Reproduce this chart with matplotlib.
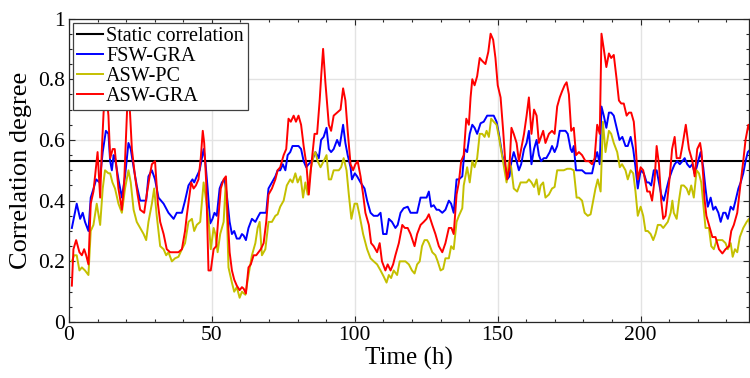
import matplotlib
matplotlib.use("Agg")
import matplotlib.pyplot as plt
from matplotlib.ticker import MultipleLocator

# values (time in hours, correlation degree)
static_corr = 0.53

fsw_t = [1, 2.7, 3.9, 4.8, 5.6, 6.8, 7.6, 8.6, 9.5, 10.7, 11.8, 12.9, 13.8, 14.4, 15.0, 15.6, 16.1,
         17.3, 18.5, 19.6, 20.8, 21.6, 22.6, 23.7, 24.9, 26.1, 27.0, 27.8, 29.0, 30.1, 31.3, 33.1,
         34.8, 36.6, 37.7, 39.5, 40.6, 41.8, 43.2, 43.8, 44.7, 45.7, 46.5, 47.1, 47.7, 48.5, 49.4,
         50.2, 50.9, 51.7, 52.7, 53.5, 54.4, 55.2, 56.2, 57.0, 57.8, 58.7, 59.7, 60.5, 61.1, 61.9,
         62.8, 64.0, 65.2, 66.3, 66.9, 68.1, 69.0, 69.8, 71.0, 72.2, 73.0, 73.9, 74.8, 75.7, 76.5,
         77.4, 78.2, 79.2, 80.3, 81.2, 82.1, 83.0, 83.8, 85.0, 86.2, 87.4, 88.2, 89.1, 90.1, 90.9,
         91.7, 92.6, 93.8, 94.7, 95.9, 96.7, 97.5, 98.5, 99.0, 100.0, 100.8, 102.0, 103.4, 104.3,
         105.5, 106.6, 108.0, 109.0, 109.9, 111.1, 111.9, 113.0, 114.2, 115.0, 116.0, 117.1, 118.5,
         119.5, 120.6, 121.8, 123.0, 124.1, 125.1, 125.9, 126.7, 127.6, 128.6, 129.4, 130.6, 131.7,
         132.9, 133.7, 134.6, 135.6, 136.4, 137.6, 138.4, 139.3, 140.2, 141.1, 141.9, 142.8, 144.0,
         145.1, 146.3, 147.5, 148.6, 149.6, 150.4, 151.6, 152.4, 153.3, 154.1, 154.8, 155.6, 156.6,
         157.4, 158.2, 159.2, 160.1, 160.9, 161.8, 162.7, 163.6, 164.4, 165.2, 166.1, 167.0, 168.2,
         169.0, 169.9, 170.8, 171.7, 172.5, 173.7, 174.5, 175.5, 176.0, 176.6, 177.4, 178.4, 179.5,
         180.7, 181.9, 183.0, 183.9, 184.8, 185.7, 186.3, 187.1, 188.0, 188.9, 189.7, 190.6, 191.6,
         192.6, 193.6, 194.7, 195.5, 196.5, 197.4, 198.2, 199.0, 200.0, 201.1, 202.1, 202.9, 203.7,
         204.6, 205.6, 206.4, 207.2, 208.1, 209.1, 209.9, 211.0, 211.9, 212.8, 213.7, 214.6, 215.4,
         216.3, 217.2, 218.1, 218.9, 219.6, 220.4, 221.0, 221.9, 222.7, 223.5, 224.5, 225.4, 226.2,
         227.2, 228.0, 228.9, 229.7, 230.5, 231.5, 232.4, 233.2, 234.2, 235.0, 235.9, 236.7, 237.5,
         238.5]
fsw_v = [0.31, 0.39, 0.34, 0.36, 0.33, 0.30, 0.41, 0.44, 0.47, 0.46, 0.56, 0.63, 0.62, 0.53, 0.50, 0.55, 0.54,
         0.47, 0.41, 0.48, 0.59, 0.57, 0.51, 0.45, 0.40, 0.40, 0.40, 0.48, 0.50, 0.47, 0.41, 0.39,
         0.36, 0.34, 0.36, 0.36, 0.40, 0.45, 0.47, 0.46, 0.48, 0.50, 0.54, 0.57, 0.53, 0.44, 0.325,
         0.34, 0.36, 0.35, 0.44, 0.46, 0.47, 0.42, 0.33, 0.29, 0.30, 0.275, 0.275, 0.29, 0.285, 0.27,
         0.31, 0.34, 0.33, 0.35, 0.36, 0.36, 0.36, 0.44, 0.46, 0.48, 0.50, 0.50, 0.52, 0.50, 0.55,
         0.56, 0.58, 0.58, 0.58, 0.57, 0.53, 0.51, 0.52, 0.53, 0.56, 0.54, 0.60, 0.61, 0.64, 0.57,
         0.56, 0.57, 0.60, 0.58, 0.65, 0.59, 0.55, 0.51, 0.47, 0.49, 0.48, 0.46, 0.44, 0.40,
         0.36, 0.35, 0.35, 0.36, 0.29, 0.29, 0.34, 0.33, 0.31, 0.32, 0.36, 0.375, 0.38,
         0.36, 0.36, 0.36, 0.41, 0.41, 0.41, 0.43, 0.38, 0.385, 0.37, 0.37, 0.36, 0.37,
         0.40, 0.39, 0.36, 0.47, 0.47, 0.48, 0.57, 0.56, 0.62, 0.65, 0.64, 0.62, 0.655,
         0.66, 0.68, 0.68, 0.68, 0.66, 0.62, 0.55, 0.52, 0.47, 0.48, 0.53, 0.56, 0.53,
         0.50, 0.52, 0.57, 0.59, 0.63, 0.52, 0.57, 0.60, 0.55, 0.53, 0.54, 0.54, 0.56,
         0.58, 0.56, 0.58, 0.63, 0.63, 0.63, 0.62, 0.57, 0.56, 0.58, 0.50, 0.50, 0.50,
         0.49, 0.49, 0.49, 0.53, 0.56, 0.52, 0.71, 0.68, 0.64, 0.69, 0.69, 0.68, 0.64,
         0.60, 0.61, 0.58, 0.58, 0.61, 0.57, 0.51, 0.44, 0.50, 0.49, 0.46, 0.46, 0.45,
         0.50, 0.50, 0.46, 0.42, 0.40, 0.44, 0.47, 0.50, 0.52, 0.53, 0.52, 0.53, 0.54,
         0.52, 0.51, 0.52, 0.49, 0.51, 0.54, 0.56, 0.51, 0.44, 0.38, 0.41, 0.37, 0.38,
         0.36, 0.33, 0.36, 0.36, 0.34, 0.38, 0.37, 0.40, 0.44, 0.46, 0.49, 0.53, 0.56,
         0.57]

pc_t = [1, 1.8, 2.7, 3.65, 4.5, 5.6, 6.8, 7.6, 8.55, 9.7, 10.9, 11.8, 12.6, 13.8, 14.4, 15.2, 16.1,
        17.3, 18.5, 19.6, 20.8, 21.6, 22.6, 23.7, 24.9, 26.1, 27.0, 27.8, 29.0, 29.8, 30.7, 31.9,
        33.1, 34.0, 34.8, 36.0, 37.1, 38.3, 39.5, 40.6, 41.8, 43.0, 43.8, 44.7, 45.9, 47.1, 48.0,
        48.8, 49.6, 50.6, 51.2, 52.0, 52.9, 54.1, 54.9, 55.8, 57.0, 57.8, 58.7, 59.7, 60.5, 61.7,
        62.8, 64.0, 65.2, 66.0, 66.7, 67.5, 68.7, 69.8, 71.0, 72.2, 73.0, 73.9, 75.1, 76.2, 77.4,
        78.2, 79.2, 80.0, 81.0, 81.9, 82.7, 83.5, 84.5, 85.6, 86.2, 87.0, 88.0, 89.1, 90.1, 90.9,
        91.7, 92.6, 93.6, 94.4, 95.2, 96.1, 97.1, 97.9, 98.8, 99.9, 100.8, 101.7, 102.9, 104.3,
        105.5, 106.6, 107.8, 109.0, 110.1, 111.1, 111.9, 112.7, 113.6, 114.8, 115.7, 116.6, 117.7,
        118.9, 120.0, 120.9, 121.8, 122.7, 123.5, 124.4, 125.3, 125.9, 127.1, 128.2, 129.0, 130.0,
        130.9, 131.7, 132.9, 133.7, 134.6, 135.6, 136.4, 137.6, 138.1, 139.3, 140.2, 141.1, 141.9,
        142.8, 143.7, 144.6, 145.4, 146.1, 146.9, 147.7, 148.6, 149.6, 150.4, 151.3, 152.2, 153.1,
        153.9, 154.7, 155.6, 156.8, 158.0, 159.2, 160.1, 160.9, 161.8, 162.7, 163.6, 164.4, 165.0,
        165.9, 166.7, 167.9, 169.0, 169.9, 170.8, 172.0, 173.1, 174.3, 175.5, 176.6, 177.6, 178.4,
        179.5, 180.4, 181.5, 182.5, 183.4, 184.2, 185.0, 186.0, 186.8, 187.7, 188.9, 189.7, 190.6,
        191.8, 192.7, 193.5, 194.7, 195.5, 196.5, 197.4, 198.2, 199.0, 200.0, 200.9, 201.7, 202.5,
        203.5, 204.4, 205.2, 206.0, 207.0, 207.9, 208.7, 209.5, 210.5, 211.1, 211.6, 212.6, 213.4,
        214.2, 215.1, 216.1, 216.9, 217.7, 218.6, 219.6, 220.4, 221.2, 221.9, 222.7, 223.9, 224.7,
        225.6, 226.6, 227.4, 228.6, 229.7, 230.5, 231.5, 232.2, 233.0, 233.8, 234.7, 235.9, 237.1,
        237.9, 238.5]
pc_v = [0.20, 0.22, 0.22, 0.17, 0.18, 0.17, 0.155, 0.30, 0.32, 0.39, 0.32, 0.44, 0.50, 0.49, 0.49, 0.46, 0.44,
        0.39, 0.36, 0.44, 0.50, 0.46, 0.37, 0.33, 0.31, 0.29, 0.27, 0.33, 0.39, 0.44, 0.35, 0.25,
        0.24, 0.22, 0.23, 0.20, 0.21, 0.215, 0.24, 0.26, 0.33, 0.34, 0.30, 0.32, 0.33, 0.46, 0.40,
        0.34, 0.24, 0.31, 0.29, 0.23, 0.29, 0.33, 0.47, 0.18, 0.13, 0.10, 0.115, 0.08, 0.10, 0.09,
        0.155, 0.22, 0.26, 0.31, 0.33, 0.22, 0.24, 0.33, 0.33, 0.35, 0.355, 0.38, 0.40, 0.45, 0.47,
        0.46, 0.49, 0.46, 0.48, 0.41, 0.46, 0.42, 0.50, 0.55, 0.56, 0.53, 0.51, 0.53, 0.55, 0.47,
        0.47, 0.50, 0.50, 0.50, 0.51, 0.54, 0.50, 0.42, 0.34, 0.39, 0.39, 0.35, 0.29, 0.24,
        0.21, 0.20, 0.19, 0.17, 0.15, 0.13, 0.155, 0.145, 0.17, 0.155, 0.20, 0.20, 0.20,
        0.19, 0.17, 0.16, 0.19, 0.20, 0.25, 0.27, 0.27, 0.26, 0.23, 0.22, 0.20, 0.17,
        0.175, 0.21, 0.21, 0.25, 0.24, 0.33, 0.35, 0.375, 0.45, 0.51, 0.46, 0.53, 0.51,
        0.54, 0.62, 0.62, 0.61, 0.63, 0.61, 0.67, 0.66, 0.65, 0.61, 0.56, 0.51, 0.46,
        0.53, 0.51, 0.44, 0.43, 0.46, 0.46, 0.46, 0.47, 0.46, 0.445, 0.47, 0.42, 0.45,
        0.46, 0.41, 0.42, 0.44, 0.445, 0.50, 0.50, 0.50, 0.505, 0.505, 0.50, 0.41, 0.41,
        0.40, 0.36, 0.35, 0.355, 0.40, 0.44, 0.47, 0.43, 0.66, 0.56, 0.63, 0.62, 0.59,
        0.56, 0.51, 0.52, 0.50, 0.47, 0.50, 0.49, 0.43, 0.35, 0.38, 0.35, 0.30, 0.30,
        0.29, 0.27, 0.29, 0.32, 0.32, 0.31, 0.32, 0.33, 0.36, 0.40, 0.36, 0.34, 0.40,
        0.45, 0.45, 0.44, 0.42, 0.45, 0.41, 0.50, 0.49, 0.46, 0.39, 0.31, 0.31, 0.25,
        0.24, 0.27, 0.27, 0.27, 0.26, 0.24, 0.26, 0.215, 0.24, 0.23, 0.28, 0.31, 0.33,
        0.34, 0.30]

gra_t = [1, 1.55, 2.5, 3.65, 4.5, 5.3, 6.0, 6.8, 7.6, 8.55, 10.0, 10.9, 11.5, 12.1, 12.6, 13.2, 13.8,
         14.4, 15.3, 16.0, 17.3, 18.5, 19.3, 19.9, 20.5, 21.0, 21.4, 22.0, 23.1, 24.0, 24.9, 26.3,
         27.2, 28.2, 29.0, 30.1, 31.1, 31.9, 33.1, 34.2, 35.4, 36.6, 38.3, 39.5, 40.6, 41.2, 42.2,
         42.75, 43.6, 44.4, 45.3, 46.1, 46.8, 47.3, 48.0, 48.8, 49.6, 50.6, 51.5, 52.3, 53.1, 54.1,
         54.9, 55.5, 56.2, 57.0, 57.8, 58.7, 59.7, 60.5, 61.1, 61.9, 62.8, 63.6, 64.6, 65.5, 66.3,
         67.1, 68.1, 69.0, 69.8, 71.0, 72.2, 73.0, 73.9, 75.1, 76.0, 76.8, 77.6, 78.6, 79.4, 80.3,
         81.2, 82.1, 83.05, 83.9, 84.7, 85.9, 86.8, 87.7, 88.3, 88.9, 89.7, 90.9, 91.7, 92.6, 93.8,
         95.0, 95.9, 96.7, 97.5, 98.5, 99.4, 100.2, 101.0, 102.0, 102.9, 103.7, 104.9, 105.7, 106.6,
         107.8, 108.7, 109.5, 110.7, 111.5, 112.5, 113.4, 114.2, 115.4, 116.6, 117.5, 118.5, 119.5,
         120.9, 121.8, 123.0, 124.1, 125.1, 125.9, 127.1, 128.2, 129.4, 130.6, 131.7, 132.9, 133.8,
         134.6, 135.6, 136.4, 137.2, 138.1, 139.0, 139.9, 140.5, 141.1, 141.9, 142.8, 143.7, 144.6,
         145.7, 146.7, 147.5, 148.4, 149.2, 150.0, 151.0, 151.9, 152.7, 153.3, 154.1, 154.8, 155.6,
         156.6, 157.4, 158.2, 159.2, 160.1, 160.9, 161.8, 162.7, 163.6, 164.4, 165.9, 166.7, 167.9,
         169.0, 169.9, 170.8, 171.7, 172.5, 173.4, 174.1, 174.9, 175.7, 176.6, 177.4, 178.4, 179.5,
         180.7, 181.9, 183.0, 183.9, 184.8, 185.7, 186.3, 187.1, 188.0, 188.9, 189.7, 190.6, 191.6,
         192.4, 193.2, 194.1, 195.1, 195.9, 196.7, 197.6, 198.2, 199.0, 200.0, 200.9, 201.7, 202.3,
         203.2, 204.0, 204.9, 205.6, 206.4, 207.2, 207.9, 208.7, 209.3, 210.2, 211.0, 211.9, 212.6,
         213.8, 214.6, 215.8, 216.9, 218.1, 218.9, 219.8, 220.8, 221.3, 221.9, 222.3, 223.0, 223.9,
         225.1, 226.2, 227.4, 228.6, 229.7, 230.9, 231.7, 232.6, 233.8, 235.0, 235.9, 236.7, 237.7,
         238.5]
gra_v = [0.12, 0.24, 0.27, 0.23, 0.22, 0.24, 0.22, 0.19, 0.39, 0.43, 0.56, 0.41, 0.57, 0.69, 0.74, 0.74, 0.68,
         0.54, 0.57, 0.57, 0.44, 0.37, 0.46, 0.60, 0.74, 0.74, 0.68, 0.57, 0.48, 0.42, 0.37, 0.36,
         0.42, 0.48, 0.52, 0.53, 0.39, 0.33, 0.29, 0.24, 0.23, 0.23, 0.23, 0.24, 0.30, 0.35, 0.42,
         0.46, 0.44, 0.45, 0.47, 0.54, 0.63, 0.59, 0.46, 0.17, 0.17, 0.24, 0.25, 0.35, 0.44, 0.47,
         0.48, 0.35, 0.23, 0.17, 0.14, 0.12, 0.105, 0.115, 0.11, 0.094, 0.18, 0.19, 0.22, 0.22, 0.23,
         0.24, 0.26, 0.33, 0.42, 0.44, 0.47, 0.50, 0.51, 0.55, 0.57, 0.67, 0.66, 0.68, 0.66, 0.68,
         0.65, 0.58, 0.52, 0.42, 0.51, 0.62, 0.62, 0.73, 0.82, 0.90, 0.79, 0.65, 0.63, 0.68, 0.69,
         0.70, 0.77, 0.73, 0.63, 0.52, 0.50, 0.52, 0.53, 0.48, 0.42, 0.36, 0.32, 0.26, 0.25,
         0.23, 0.26, 0.20, 0.17, 0.19, 0.17, 0.19, 0.22, 0.26, 0.32, 0.31, 0.31, 0.29,
         0.25, 0.29, 0.32, 0.33, 0.34, 0.355, 0.32, 0.29, 0.25, 0.23, 0.26, 0.31, 0.31,
         0.29, 0.42, 0.46, 0.53, 0.55, 0.67, 0.65, 0.74, 0.80, 0.78, 0.81, 0.87, 0.86,
         0.85, 0.89, 0.95, 0.93, 0.87, 0.78, 0.74, 0.63, 0.52, 0.47, 0.51, 0.64, 0.62,
         0.59, 0.53, 0.57, 0.62, 0.68, 0.74, 0.62, 0.70, 0.68, 0.59, 0.63, 0.59, 0.62,
         0.63, 0.62, 0.71, 0.74, 0.76, 0.78, 0.79, 0.75, 0.63, 0.64, 0.55, 0.56, 0.55,
         0.53, 0.53, 0.52, 0.54, 0.65, 0.62, 0.95, 0.90, 0.84, 0.885, 0.87, 0.88, 0.80,
         0.73, 0.72, 0.72, 0.68, 0.69, 0.69, 0.66, 0.59, 0.47, 0.51, 0.50, 0.46, 0.43,
         0.43, 0.40, 0.47, 0.58, 0.52, 0.40, 0.34, 0.35, 0.40, 0.48, 0.57, 0.61, 0.54,
         0.54, 0.58, 0.65, 0.57, 0.53, 0.48, 0.57, 0.59, 0.56, 0.48, 0.41, 0.35, 0.32,
         0.28, 0.28, 0.24, 0.226, 0.24, 0.25, 0.30, 0.32, 0.36, 0.46, 0.53, 0.60, 0.65,
         0.62]

plt.rcParams['font.family'] = ['Liberation Serif', 'DejaVu Serif']

fig = plt.figure(figsize=(7.5, 3.78), dpi=100)
ax = fig.add_axes([0.092, 0.148, 0.907, 0.803])

ax.grid(True, which='major', color='#e3e3e3', linewidth=1.0, zorder=0)
ax.axhline(static_corr, color='black', linewidth=1.5, label='Static correlation', zorder=3)
ax.plot(fsw_t, fsw_v, color='#0000ff', linewidth=1.4, label='FSW-GRA', zorder=3)
ax.plot(pc_t, pc_v, color='#c4c000', linewidth=1.4, label='ASW-PC', zorder=3)
ax.plot(gra_t, gra_v, color='#ff0000', linewidth=1.4, label='ASW-GRA', zorder=4)

ax.set_xlim(0, 238)
ax.set_ylim(0, 1)
ax.xaxis.set_major_locator(MultipleLocator(50))
ax.xaxis.set_minor_locator(MultipleLocator(10))
ax.yaxis.set_major_locator(MultipleLocator(0.2))
ax.yaxis.set_minor_locator(MultipleLocator(0.05))
ax.set_yticks([0, 0.2, 0.4, 0.6, 0.8, 1])
ax.set_yticklabels(['0', '0.2', '0.4', '0.6', '0.8', '1'])
ax.tick_params(which='both', direction='in', top=True, right=True, labelsize=15.5,
               color='#262626', pad=3)
ax.tick_params(which='major', length=4.5, width=0.8)
ax.tick_params(which='minor', length=2.5, width=0.8)
for s in ax.spines.values():
    s.set_color('#262626')
    s.set_linewidth(0.9)

ax.set_xlabel('Time (h)', fontsize=18, labelpad=1)
ax.set_ylabel('Correlation degree', fontsize=19, labelpad=4)

leg = ax.legend(loc='upper left', bbox_to_anchor=(0.0056, 0.986), borderaxespad=0,
                fontsize=14.5, handlelength=1.3, handletextpad=0.15, labelspacing=0.05,
                borderpad=0.2, fancybox=False, framealpha=1, edgecolor='#404040')
leg.get_frame().set_linewidth(0.9)
leg.set_zorder(10)

fig.savefig('out.png', dpi=100)
